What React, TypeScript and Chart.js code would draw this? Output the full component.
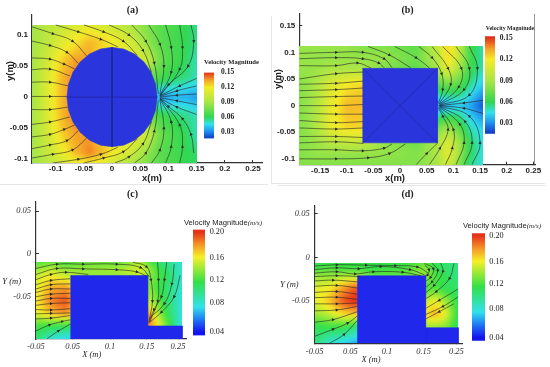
import React, { useEffect, useRef } from "react";
import { Chart, registerables } from "chart.js";

Chart.register(...registerables);

type Pt = [number, number];
type Stop = [number, [number, number, number]];

// ---- colour scales -------------------------------------------------------
const stopsAB: Stop[] = [
  [0.005, [0, 0, 120]], [0.015, [15, 50, 190]], [0.03, [30, 140, 240]], [0.045, [50, 225, 235]],
  [0.06, [50, 215, 80]], [0.09, [170, 230, 70]], [0.12, [245, 235, 40]], [0.135, [245, 160, 40]], [0.15, [225, 50, 25]],
];
const stopsCD: Stop[] = [
  [0.04, [20, 20, 240]], [0.06, [30, 120, 245]], [0.08, [50, 225, 235]], [0.12, [50, 225, 70]],
  [0.16, [245, 240, 40]], [0.18, [245, 150, 40]], [0.2, [230, 50, 25]],
];

// ---- panel (a) -----------------------------------------------------------
const xsA = [-0.142, -0.115, -0.09, -0.065, -0.04, -0.015, 0.01, 0.035, 0.06, 0.085, 0.11, 0.13, 0.15];
const ysA = [0.116, 0.09, 0.06, 0.03, 0, -0.03, -0.06, -0.09, -0.106];
const velA = [
  [0.088, 0.095, 0.1, 0.108, 0.112, 0.105, 0.1, 0.09, 0.08, 0.07, 0.065, 0.06, 0.055],
  [0.088, 0.098, 0.11, 0.12, 0.13, 0.125, 0.115, 0.105, 0.085, 0.07, 0.065, 0.06, 0.055],
  [0.088, 0.105, 0.125, 0.135, 0.135, 0.12, 0.12, 0.115, 0.105, 0.075, 0.065, 0.06, 0.05],
  [0.088, 0.11, 0.13, 0.14, 0.135, 0.12, 0.12, 0.11, 0.08, 0.065, 0.058, 0.055, 0.05],
  [0.088, 0.11, 0.13, 0.14, 0.135, 0.12, 0.12, 0.11, 0.08, 0.03, 0.036, 0.036, 0.032],
  [0.088, 0.11, 0.13, 0.14, 0.135, 0.12, 0.12, 0.11, 0.08, 0.065, 0.058, 0.055, 0.05],
  [0.088, 0.105, 0.125, 0.135, 0.135, 0.12, 0.12, 0.115, 0.105, 0.075, 0.065, 0.06, 0.05],
  [0.088, 0.1, 0.115, 0.13, 0.14, 0.13, 0.115, 0.105, 0.085, 0.07, 0.065, 0.06, 0.058],
  [0.085, 0.095, 0.105, 0.115, 0.12, 0.11, 0.1, 0.09, 0.08, 0.07, 0.065, 0.06, 0.058],
];
const circleA: Pt[] = [
  [0.08, 0], [0.0773, 0.0207], [0.0693, 0.04], [0.0566, 0.0566], [0.04, 0.0693], [0.0207, 0.0773], [0, 0.08],
  [-0.0207, 0.0773], [-0.04, 0.0693], [-0.0566, 0.0566], [-0.0693, 0.04], [-0.0773, 0.0207], [-0.08, 0],
  [-0.0773, -0.0207], [-0.0693, -0.04], [-0.0566, -0.0566], [-0.04, -0.0693], [-0.0207, -0.0773], [0, -0.08],
  [0.0207, -0.0773], [0.04, -0.0693], [0.0566, -0.0566], [0.0693, -0.04], [0.0773, -0.0207], [0.08, 0],
];
const innerA: Pt[][] = [[[-0.08, 0], [0.08, 0]], [[0, 0.08], [0, -0.08]]];
const streamA: Pt[][] = [
  [[-0.142, 0.113], [-0.105, 0.102], [-0.07, 0.09], [-0.045, 0.066]],
  [[-0.142, 0.09], [-0.11, 0.083], [-0.08, 0.072], [-0.06, 0.054]],
  [[-0.142, 0.063], [-0.11, 0.061], [-0.085, 0.053], [-0.066, 0.045]],
  [[-0.142, 0.044], [-0.11, 0.045], [-0.075, 0.034]],
  [[-0.142, 0.024], [-0.11, 0.024], [-0.078, 0.018]],
  [[-0.142, 0.001], [-0.11, 0.001], [-0.08, 0.001]],
  [[-0.142, -0.02], [-0.11, -0.02], [-0.078, -0.016]],
  [[-0.142, -0.044], [-0.11, -0.04], [-0.075, -0.032]],
  [[-0.142, -0.064], [-0.11, -0.06], [-0.085, -0.052], [-0.066, -0.045]],
  [[-0.142, -0.083], [-0.11, -0.077], [-0.08, -0.07], [-0.06, -0.054]],
  [[-0.142, -0.098], [-0.105, -0.092], [-0.07, -0.085], [-0.045, -0.066]],
  [[-0.1, 0.116], [-0.06, 0.105], [-0.02, 0.093], [0.01, 0.081]],
  [[-0.05, 0.116], [-0.015, 0.105], [0.02, 0.09], [0.045, 0.067]],
  [[-0.005, 0.116], [0.03, 0.1], [0.055, 0.075], [0.07, 0.04]],
  [[0.035, 0.116], [0.06, 0.09], [0.075, 0.055], [0.082, 0.005]],
  [[0.065, 0.116], [0.085, 0.085], [0.092, 0.05], [0.085, 0.005]],
  [[0.095, 0.116], [0.105, 0.08], [0.105, 0.04], [0.085, 0.003]],
  [[0.12, 0.116], [0.125, 0.08], [0.12, 0.045], [0.086, 0.003]],
  [[0.14, 0.116], [0.145, 0.09], [0.135, 0.05], [0.1, 0.02], [0.085, 0.002]],
  [[0.15, 0.03], [0.12, 0.018], [0.085, 0.002]],
  [[0.15, 0.018], [0.115, 0.01], [0.085, 0.001]],
  [[0.15, 0.005], [0.115, 0.003], [0.085, 0]],
  [[0.15, -0.012], [0.115, -0.006], [0.085, -0.001]],
  [[0.15, -0.028], [0.115, -0.016], [0.085, -0.002]],
  [[-0.105, -0.106], [-0.06, -0.1], [-0.02, -0.092], [0.01, -0.081]],
  [[-0.05, -0.106], [-0.015, -0.098], [0.02, -0.088], [0.045, -0.067]],
  [[0.005, -0.106], [0.03, -0.096], [0.055, -0.075], [0.07, -0.04]],
  [[0.04, -0.106], [0.06, -0.09], [0.075, -0.055], [0.082, -0.005]],
  [[0.07, -0.106], [0.085, -0.085], [0.092, -0.05], [0.085, -0.005]],
  [[0.095, -0.106], [0.105, -0.08], [0.105, -0.04], [0.085, -0.003]],
  [[0.12, -0.106], [0.125, -0.08], [0.12, -0.045], [0.086, -0.003]],
  [[0.145, -0.09], [0.14, -0.06], [0.125, -0.035], [0.1, -0.015], [0.085, -0.002]],
];

// ---- panel (b) -----------------------------------------------------------
const xsB = [-0.189, -0.16, -0.13, -0.1, -0.07, -0.03, 0.03, 0.07, 0.09, 0.11, 0.13, 0.156];
const ysB = [0.111, 0.09, 0.07, 0.04, 0, -0.04, -0.07, -0.09, -0.111];
const velB = [
  [0.085, 0.085, 0.085, 0.085, 0.08, 0.08, 0.07, 0.1, 0.125, 0.1, 0.065, 0.05],
  [0.085, 0.085, 0.085, 0.085, 0.085, 0.085, 0.075, 0.095, 0.125, 0.1, 0.065, 0.05],
  [0.085, 0.085, 0.09, 0.09, 0.09, 0.08, 0.07, 0.09, 0.115, 0.09, 0.065, 0.05],
  [0.08, 0.09, 0.11, 0.12, 0.125, 0.1, 0.08, 0.07, 0.075, 0.07, 0.055, 0.04],
  [0.08, 0.09, 0.115, 0.13, 0.13, 0.1, 0.08, 0.03, 0.035, 0.04, 0.035, 0.02],
  [0.08, 0.09, 0.115, 0.125, 0.125, 0.1, 0.08, 0.075, 0.085, 0.07, 0.05, 0.04],
  [0.08, 0.085, 0.095, 0.1, 0.1, 0.085, 0.075, 0.095, 0.11, 0.09, 0.06, 0.045],
  [0.08, 0.085, 0.085, 0.085, 0.085, 0.085, 0.08, 0.09, 0.115, 0.09, 0.06, 0.045],
  [0.08, 0.08, 0.08, 0.08, 0.08, 0.08, 0.08, 0.09, 0.105, 0.08, 0.055, 0.045],
];
const squareB: Pt[] = [[-0.07, 0.07], [0.07, 0.07], [0.07, -0.07], [-0.07, -0.07], [-0.07, 0.07]];
const innerB: Pt[][] = [[[-0.07, 0.07], [0.07, -0.07]], [[-0.07, -0.07], [0.07, 0.07]]];
const streamB: Pt[][] = [
  [[-0.189, 0.098], [-0.12, 0.1], [-0.07, 0.1], [-0.03, 0.088], [-0.015, 0.071]],
  [[-0.189, 0.088], [-0.12, 0.09], [-0.07, 0.088], [-0.04, 0.08], [-0.03, 0.071]],
  [[-0.189, 0.075], [-0.12, 0.075], [-0.08, 0.08], [-0.055, 0.071]],
  [[-0.189, 0.05], [-0.12, 0.06], [-0.069, 0.063]],
  [[-0.189, 0.04], [-0.12, 0.042], [-0.069, 0.046]],
  [[-0.189, 0.028], [-0.12, 0.03], [-0.069, 0.033]],
  [[-0.189, 0.015], [-0.12, 0.017], [-0.069, 0.018]],
  [[-0.189, 0], [-0.12, 0], [-0.069, 0.002]],
  [[-0.189, -0.014], [-0.12, -0.016], [-0.069, -0.016]],
  [[-0.189, -0.028], [-0.12, -0.032], [-0.069, -0.03]],
  [[-0.189, -0.042], [-0.12, -0.044], [-0.069, -0.042]],
  [[-0.189, -0.058], [-0.12, -0.058], [-0.069, -0.06]],
  [[-0.189, -0.07], [-0.12, -0.068], [-0.069, -0.071]],
  [[-0.189, -0.083], [-0.12, -0.083], [-0.07, -0.085], [-0.03, -0.08], [-0.015, -0.072]],
  [[-0.189, -0.1], [-0.12, -0.1], [-0.06, -0.098], [-0.02, -0.09], [0.01, -0.072]],
  [[-0.06, 0.111], [-0.02, 0.095], [0.02, 0.071]],
  [[-0.01, 0.111], [0.03, 0.09], [0.055, 0.071]],
  [[0.035, 0.111], [0.06, 0.09], [0.078, 0.06], [0.08, 0.03], [0.072, 0.005]],
  [[0.06, 0.111], [0.09, 0.07], [0.095, 0.04], [0.073, 0.003]],
  [[0.08, 0.111], [0.115, 0.07], [0.11, 0.035], [0.073, 0.002]],
  [[0.105, 0.111], [0.13, 0.07], [0.12, 0.03], [0.075, 0.002]],
  [[0.13, 0.111], [0.145, 0.07], [0.13, 0.02], [0.075, 0.001]],
  [[0.156, 0.01], [0.12, 0.005], [0.073, 0]],
  [[0.156, -0.015], [0.12, -0.005], [0.073, 0]],
  [[0.03, -0.111], [0.05, -0.09], [0.07, -0.071]],
  [[0.055, -0.111], [0.075, -0.08], [0.09, -0.045], [0.08, -0.02], [0.072, -0.005]],
  [[0.085, -0.111], [0.098, -0.08], [0.1, -0.045], [0.073, -0.003]],
  [[0.105, -0.111], [0.12, -0.07], [0.112, -0.035], [0.073, -0.002]],
  [[0.12, -0.111], [0.135, -0.07], [0.122, -0.03], [0.075, -0.002]],
  [[0.135, -0.111], [0.15, -0.07], [0.13, -0.02], [0.075, -0.001]],
];

// ---- panel (c) -----------------------------------------------------------
const xsC = [-0.05, -0.03, -0.01, 0.02, 0.06, 0.09, 0.1, 0.115, 0.13, 0.146];
const ysC = [-0.0097, -0.018, -0.025, -0.04, -0.055, -0.07, -0.084, -0.0992];
const velC = [
  [0.125, 0.13, 0.125, 0.13, 0.13, 0.145, 0.13, 0.11, 0.1, 0.085],
  [0.14, 0.15, 0.14, 0.14, 0.145, 0.155, 0.145, 0.12, 0.105, 0.085],
  [0.15, 0.16, 0.15, 0.14, 0.14, 0.15, 0.14, 0.125, 0.11, 0.085],
  [0.155, 0.175, 0.18, 0.14, 0.14, 0.14, 0.14, 0.12, 0.105, 0.085],
  [0.16, 0.185, 0.195, 0.14, 0.14, 0.15, 0.15, 0.13, 0.105, 0.08],
  [0.155, 0.17, 0.18, 0.14, 0.14, 0.18, 0.18, 0.14, 0.11, 0.08],
  [0.125, 0.12, 0.12, 0.1, 0.1, 0.19, 0.19, 0.16, 0.12, 0.075],
  [0.11, 0.085, 0.075, 0.07, 0.07, 0.1, 0.1, 0.1, 0.1, 0.075],
];
const blockC: Pt[] = [[-0.0035, -0.0253], [0.0996, -0.0253], [0.0996, -0.0994], [-0.0035, -0.0994], [-0.0035, -0.0253]];
const ledgeC: Pt[] = [[0.0996, -0.0841], [0.1459, -0.0841], [0.1459, -0.0994], [0.0996, -0.0994], [0.0996, -0.0841]];
const streamC: Pt[][] = [
  [[-0.05, -0.017], [-0.022, -0.012], [0.013, -0.012], [0.058, -0.012], [0.09, -0.016], [0.102, -0.027]],
  [[-0.05, -0.024], [-0.022, -0.017], [0.013, -0.0175], [0.058, -0.0185], [0.085, -0.021], [0.098, -0.026]],
  [[-0.05, -0.03], [-0.03, -0.024], [-0.01, -0.0215], [0.02, -0.024]],
  [[-0.05, -0.036], [-0.03, -0.031], [-0.004, -0.029]],
  [[-0.05, -0.041], [-0.03, -0.036], [-0.004, -0.035]],
  [[-0.05, -0.045], [-0.03, -0.041], [-0.004, -0.041]],
  [[-0.05, -0.05], [-0.03, -0.047], [-0.004, -0.046]],
  [[-0.05, -0.055], [-0.03, -0.052], [-0.004, -0.052]],
  [[-0.05, -0.06], [-0.03, -0.058], [-0.004, -0.057]],
  [[-0.05, -0.065], [-0.03, -0.0655], [-0.004, -0.064]],
  [[-0.05, -0.07], [-0.03, -0.0695], [-0.004, -0.069]],
  [[-0.05, -0.076], [-0.03, -0.075], [-0.004, -0.072]],
  [[-0.05, -0.09], [-0.032, -0.083], [-0.015, -0.079], [-0.004, -0.077]],
  [[-0.035, -0.099], [-0.02, -0.09], [-0.004, -0.082]],
  [[0.08, -0.0097], [0.098, -0.015], [0.104, -0.03], [0.106, -0.055], [0.101, -0.08]],
  [[0.113, -0.0097], [0.114, -0.03], [0.113, -0.055], [0.102, -0.08]],
  [[0.125, -0.0097], [0.122, -0.03], [0.118, -0.05], [0.108, -0.065], [0.102, -0.078]],
  [[0.135, -0.012], [0.132, -0.035], [0.122, -0.058], [0.102, -0.075]],
  [[0.143, -0.025], [0.135, -0.05], [0.118, -0.068], [0.102, -0.08]],
];

// ---- panel (d) -----------------------------------------------------------
const xsD = [-0.05, -0.03, -0.01, 0.008, 0.03, 0.07, 0.1013, 0.115, 0.13, 0.146];
const ysD = [-0.0068, -0.014, -0.021, -0.035, -0.05, -0.065, -0.08, -0.098];
const velD = [
  [0.115, 0.12, 0.12, 0.12, 0.12, 0.12, 0.13, 0.115, 0.11, 0.105],
  [0.125, 0.13, 0.125, 0.125, 0.12, 0.125, 0.14, 0.12, 0.11, 0.105],
  [0.14, 0.14, 0.145, 0.145, 0.13, 0.13, 0.14, 0.125, 0.115, 0.105],
  [0.155, 0.16, 0.18, 0.195, 0.15, 0.13, 0.125, 0.125, 0.115, 0.11],
  [0.155, 0.17, 0.195, 0.205, 0.15, 0.14, 0.15, 0.16, 0.14, 0.115],
  [0.14, 0.15, 0.165, 0.17, 0.15, 0.15, 0.165, 0.175, 0.155, 0.115],
  [0.115, 0.12, 0.12, 0.105, 0.1, 0.12, 0.14, 0.14, 0.135, 0.11],
  [0.11, 0.085, 0.075, 0.065, 0.07, 0.1, 0.12, 0.12, 0.12, 0.11],
];
const blockD: Pt[] = [[0.0084, -0.021], [0.1013, -0.021], [0.1013, -0.098], [0.0084, -0.098], [0.0084, -0.021]];
const ledgeD: Pt[] = [[0.1013, -0.0802], [0.146, -0.0802], [0.146, -0.098], [0.1013, -0.098], [0.1013, -0.0802]];
const streamD: Pt[][] = [
  [[-0.05, -0.01], [-0.02, -0.0085], [0.02, -0.009], [0.06, -0.0095], [0.09, -0.011], [0.105, -0.018]],
  [[-0.05, -0.014], [-0.02, -0.012], [0.01, -0.013], [0.04, -0.0105], [0.08, -0.014], [0.1, -0.02]],
  [[-0.05, -0.018], [-0.02, -0.0165], [0.005, -0.019], [0.03, -0.0165], [0.07, -0.017], [0.095, -0.021]],
  [[-0.05, -0.022], [-0.02, -0.021], [0.012, -0.022]],
  [[-0.05, -0.027], [-0.025, -0.026], [0.008, -0.028]],
  [[-0.05, -0.033], [-0.02, -0.032], [0.008, -0.035]],
  [[-0.05, -0.04], [-0.02, -0.039], [0.008, -0.042]],
  [[-0.05, -0.046], [-0.02, -0.0455], [0.008, -0.048]],
  [[-0.05, -0.053], [-0.02, -0.053], [0.008, -0.052]],
  [[-0.05, -0.061], [-0.02, -0.06], [0.008, -0.056]],
  [[-0.05, -0.074], [-0.025, -0.071], [0.008, -0.062]],
  [[-0.05, -0.09], [-0.025, -0.082], [-0.005, -0.075], [0.008, -0.067]],
  [[-0.03, -0.098], [-0.01, -0.088], [0.008, -0.072]],
  [[0.146, -0.036], [0.12, -0.049], [0.102, -0.058]],
  [[0.146, -0.045], [0.125, -0.056], [0.102, -0.065]],
  [[0.14, -0.053], [0.12, -0.062], [0.102, -0.07]],
  [[0.14, -0.0068], [0.134, -0.024], [0.116, -0.039], [0.102, -0.047]],
  [[0.122, -0.0068], [0.125, -0.016], [0.113, -0.032], [0.102, -0.04]],
  [[0.11, -0.0068], [0.118, -0.015], [0.11, -0.028], [0.102, -0.034]],
  [[0.1, -0.007], [0.112, -0.013], [0.108, -0.023], [0.102, -0.027]],
  [[0.1, -0.009], [0.106, -0.014], [0.104, -0.02], [0.101, -0.021]],
];

// ---- tick positions and labels -------------------------------------------
const xTicksA = [-0.1, -0.05, 0, 0.05, 0.1, 0.15, 0.2, 0.25];
const xLabelsA = ["-0.1", "-0.05", "0", "0.05", "0.1", "0.15", "0.2", "0.25"];
const yTicksA = [0.1, 0.05, 0, -0.05, -0.1];
const yLabelsA = ["0.1", "0.05", "0", "-0.05", "-0.1"];
const xTicksB = [-0.15, -0.1, -0.05, 0, 0.05, 0.1, 0.15, 0.2, 0.25];
const xLabelsB = ["-0.15", "-0.1", "-0.05", "0", "0.05", "0.1", "0.15", "0.2", "0.25"];
const yTicksB = [0.15, 0.1, 0.05, 0, -0.05, -0.1];
const yLabelsB = ["0.15", "0.1", "0.05", "0", "-0.05", "-0.1"];
const xTicksC = [-0.05, -0.0009, 0.0491, 0.0983, 0.1402];
const xTicksD = [-0.05, -0.0014, 0.0486, 0.0987, 0.1433];
const xLabelsCD = ["-0.05", "0.05", "0.1", "0.15", "0.25"];
const yTicksCD = [0.05, 0, -0.05];
const yLabelsCD = ["0.05", "0", "-0.05"];
const barTicksAB = [0.15, 0.12, 0.09, 0.06, 0.03];
const barLabelsAB = ["0.15", "0.12", "0.09", "0.06", "0.03"];
const barTicksC = [0.2, 0.1593, 0.1241, 0.0865, 0.04];
const barTicksD = [0.2, 0.1589, 0.1246, 0.0851, 0.04];
const barLabelsCD = ["0.20", "0.16", "0.12", "0.08", "0.04"];

// ---- helpers -------------------------------------------------------------
function colorAt(stops: Stop[], v: number): [number, number, number] {
  if (v <= stops[0][0]) return stops[0][1];
  for (let i = 1; i < stops.length; i++) {
    if (v <= stops[i][0]) {
      const t = (v - stops[i - 1][0]) / (stops[i][0] - stops[i - 1][0]);
      const a = stops[i - 1][1], b = stops[i][1];
      return [a[0] + (b[0] - a[0]) * t, a[1] + (b[1] - a[1]) * t, a[2] + (b[2] - a[2]) * t];
    }
  }
  return stops[stops.length - 1][1];
}

function bracket(arr: number[], p: number): [number, number] {
  let i = 0;
  while (i < arr.length - 2 && p > arr[i + 1]) i++;
  const t = Math.min(1, Math.max(0, (p - arr[i]) / (arr[i + 1] - arr[i])));
  return [i, t];
}

const heatPlugin = {
  id: "heatField",
  beforeDatasetDraw(chart: any, args: any) {
    const h = chart.data.datasets[args.index].heatField;
    if (!h) return;
    const px = h.xs.map((v: number) => chart.scales.x.getPixelForValue(v));
    const py = h.ys.map((v: number) => chart.scales.y.getPixelForValue(v));
    const x0 = Math.round(px[0]), y0 = Math.round(py[0]);
    const w = Math.round(px[px.length - 1]) - x0, hh = Math.round(py[py.length - 1]) - y0;
    const off = document.createElement("canvas");
    off.width = w; off.height = hh;
    const octx = off.getContext("2d")!;
    const img = octx.createImageData(w, hh);
    for (let j = 0; j < hh; j++) {
      const [jy, ty] = bracket(py, y0 + j + 0.5);
      for (let i = 0; i < w; i++) {
        const [ix, tx] = bracket(px, x0 + i + 0.5);
        const v =
          (h.vals[jy][ix] * (1 - tx) + h.vals[jy][ix + 1] * tx) * (1 - ty) +
          (h.vals[jy + 1][ix] * (1 - tx) + h.vals[jy + 1][ix + 1] * tx) * ty;
        const c = colorAt(h.stops, v);
        const k = (j * w + i) * 4;
        img.data[k] = c[0]; img.data[k + 1] = c[1]; img.data[k + 2] = c[2]; img.data[k + 3] = 255;
      }
    }
    octx.putImageData(img, 0, 0);
    const ctx = chart.ctx;
    ctx.save();
    ctx.drawImage(off, x0, y0);
    ctx.beginPath();
    ctx.rect(x0, y0, w, hh);
    ctx.clip();
    ctx.filter = "blur(2px)";
    ctx.drawImage(off, x0, y0);
    ctx.restore();
    return false;
  },
};

const toXY = (l: Pt[]) => l.map(([x, y]) => ({ x, y }));

function streamSets(lines: Pt[][], kx: number, ky: number) {
  return lines.map((l) => ({
    data: toXY(l),
    showLine: true,
    borderColor: "rgba(35,35,35,0.8)",
    borderWidth: 0.75,
    tension: 0.4,
    order: 10,
    pointStyle: "triangle",
    pointBackgroundColor: "#2a2a2a",
    pointBorderWidth: 0,
    pointRadius: l.map((_, i) => (i === 0 || i === l.length - 1 ? 0 : 1.9)),
    pointRotation: l.map((p, i) => {
      const a = l[Math.max(0, i - 1)], b = l[Math.min(l.length - 1, i + 1)];
      return (Math.atan2(-(b[1] - a[1]) * ky, (b[0] - a[0]) * kx) * 180) / Math.PI + 90;
    }),
  }));
}

function bodySet(shape: Pt[], color: string) {
  return { data: toXY(shape), showLine: true, fill: "shape", backgroundColor: color, borderColor: color, borderWidth: 0.5, pointRadius: 0, order: 30 };
}
function innerSet(l: Pt[], color: string) {
  return { data: toXY(l), showLine: true, borderColor: color, borderWidth: 0.6, pointRadius: 0, order: 20 };
}

interface Panel {
  box: [number, number, number, number]; // canvas left, top, right, bottom
  plot: [number, number, number, number]; // plot left, top, right, bottom
  xr: [number, number]; yr: [number, number];
  xTicks: number[]; xLabels: string[]; yTicks: number[]; yLabels: string[];
  font: any; color: string; xPad: number; yPad: number;
  heat: any; bodies: Pt[][]; inner: Pt[][]; stream: Pt[][]; bodyColor: string; innerColor: string;
  rightAxis?: boolean;
}

const boldTick = { family: "'Liberation Sans'", size: 8, weight: "bold" };

const panels: Panel[] = [
  {
    box: [0, 0, 268, 183], plot: [32, 15, 262, 163], xr: [-0.142, 0.266], yr: [-0.106, 0.132],
    xTicks: xTicksA, xLabels: xLabelsA, yTicks: yTicksA, yLabels: yLabelsA,
    font: boldTick, color: "#222", xPad: 4, yPad: 7,
    heat: { xs: xsA, ys: ysA, vals: velA, stops: stopsAB }, bodies: [circleA], inner: innerA, stream: streamA,
    bodyColor: "rgb(43,53,220)", innerColor: "rgb(28,34,140)",
  },
  {
    box: [270, 0, 550, 183], plot: [299.3, 14, 535, 164.7], xr: [-0.189, 0.253], yr: [-0.111, 0.172],
    xTicks: xTicksB, xLabels: xLabelsB, yTicks: yTicksB, yLabels: yLabelsB,
    font: boldTick, color: "#222", xPad: 4, yPad: 7,
    heat: { xs: xsB, ys: ysB, vals: velB, stops: stopsAB }, bodies: [squareB], inner: innerB, stream: streamB,
    bodyColor: "rgb(43,53,220)", innerColor: "rgb(30,36,150)", rightAxis: true,
  },
  {
    box: [0, 185, 200, 367], plot: [36, 201.7, 186.7, 339], xr: [-0.05, 0.1518], yr: [-0.0994, 0.061],
    xTicks: xTicksC, xLabels: xLabelsCD, yTicks: yTicksCD, yLabels: yLabelsCD,
    font: { family: "'Liberation Serif'", size: 8.5, style: "italic" }, color: "#333", xPad: 6, yPad: 8,
    heat: { xs: xsC, ys: ysC, vals: velC, stops: stopsCD }, bodies: [blockC, ledgeC], inner: [], stream: streamC,
    bodyColor: "rgb(32,40,235)", innerColor: "rgb(32,40,200)",
  },
  {
    box: [278, 185, 470, 367], plot: [314.7, 205.7, 465, 343.3], xr: [-0.05, 0.1513], yr: [-0.098, 0.0588],
    xTicks: xTicksD, xLabels: xLabelsCD, yTicks: yTicksCD, yLabels: yLabelsCD,
    font: { family: "'Liberation Serif'", size: 8.5, style: "italic" }, color: "#333", xPad: 6, yPad: 8,
    heat: { xs: xsD, ys: ysD, vals: velD, stops: stopsCD }, bodies: [blockD, ledgeD], inner: [], stream: streamD,
    bodyColor: "rgb(32,40,235)", innerColor: "rgb(32,40,200)",
  },
];

interface Bar {
  left: number; top: number; w: number; h: number; min: number; max: number;
  ticks: number[]; labels: string[]; stops: Stop[]; font: any; gap: number;
}
const bars: Bar[] = [
  { left: 203.7, top: 69, w: 10, h: 73.7, min: 0.016, max: 0.15, ticks: barTicksAB, labels: barLabelsAB, stops: stopsAB, font: { family: "'Liberation Serif'", size: 7.5, weight: "bold" }, gap: 7 },
  { left: 485, top: 35, w: 10.3, h: 100, min: 0.0153, max: 0.1523, ticks: barTicksAB, labels: barLabelsAB, stops: stopsAB, font: { family: "'Liberation Serif'", size: 7.5, weight: "bold" }, gap: 4.7 },
  { left: 193.3, top: 228.3, w: 12.7, h: 109.4, min: 0.0347, max: 0.2042, ticks: barTicksC, labels: barLabelsCD, stops: stopsCD, font: { family: "'Liberation Serif'", size: 8.2 }, gap: 4.7 },
  { left: 472.3, top: 231.7, w: 13.4, h: 110, min: 0.0348, max: 0.204, ticks: barTicksD, labels: barLabelsCD, stops: stopsCD, font: { family: "'Liberation Serif'", size: 8.2 }, gap: 4.3 },
];

function mainConfig(p: Panel): any {
  const kx = (p.plot[2] - p.plot[0]) / (p.xr[1] - p.xr[0]);
  const ky = (p.plot[3] - p.plot[1]) / (p.yr[1] - p.yr[0]);
  const cells: { x: number; y: number }[] = [];
  p.heat.ys.forEach((y: number) => p.heat.xs.forEach((x: number) => cells.push({ x, y })));
  const datasets: any[] = [
    { data: cells, heatField: p.heat, pointRadius: 0, order: 100 },
    ...p.bodies.map((b) => bodySet(b, p.bodyColor)),
    ...p.inner.map((l) => innerSet(l, p.innerColor)),
    ...streamSets(p.stream, kx, ky),
  ];
  if (p.rightAxis) {
    datasets.push({ data: [{ x: p.xr[1], y: p.yr[0] }, { x: p.xr[1], y: p.yr[1] }], showLine: true, borderColor: "#333", borderWidth: 1, pointRadius: 0, order: 5 });
  }
  const axis = (ticks: number[], labels: string[], pad: number, fit: (s: any) => void, min: number, max: number) => ({
    type: "linear", min, max,
    afterBuildTicks: (a: any) => { a.ticks = ticks.map((value) => ({ value })); },
    afterFit: fit,
    grid: { display: true, drawOnChartArea: false, drawTicks: true, tickLength: -3, color: "#333", lineWidth: 1 },
    border: { display: true, color: "#333", width: 1.2 },
    ticks: { autoSkip: false, maxRotation: 0, padding: pad, color: p.color, font: p.font, callback: (_: any, i: number) => labels[i] },
  });
  return {
    type: "scatter",
    data: { datasets },
    plugins: [heatPlugin],
    options: {
      animation: false, responsive: false,
      layout: { padding: { left: 0, bottom: 0, top: p.plot[1] - p.box[1], right: p.box[2] - p.plot[2] } },
      plugins: { legend: { display: false }, title: { display: false }, tooltip: { enabled: false } },
      events: [],
      scales: {
        x: axis(p.xTicks, p.xLabels, p.xPad, (s) => { s.height = p.box[3] - p.plot[3]; }, p.xr[0], p.xr[1]),
        y: axis(p.yTicks, p.yLabels, p.yPad, (s) => { s.width = p.plot[0] - p.box[0]; }, p.yr[0], p.yr[1]),
      },
    },
  };
}

function barConfig(b: Bar): any {
  return {
    type: "bar",
    data: {
      labels: [""],
      datasets: [{
        data: [[b.min, b.max]],
        barPercentage: 1, categoryPercentage: 1, borderWidth: 0,
        backgroundColor: (ctx: any) => {
          const area = ctx.chart.chartArea;
          if (!area) return "#888";
          const g = ctx.chart.ctx.createLinearGradient(0, area.bottom, 0, area.top);
          b.stops.forEach(([v, c]) => {
            const t = (v - b.min) / (b.max - b.min);
            if (t >= 0 && t <= 1) g.addColorStop(t, `rgb(${c[0]},${c[1]},${c[2]})`);
          });
          const lo = colorAt(b.stops, b.min), hi = colorAt(b.stops, b.max);
          g.addColorStop(0, `rgb(${lo[0]},${lo[1]},${lo[2]})`);
          g.addColorStop(1, `rgb(${hi[0]},${hi[1]},${hi[2]})`);
          return g;
        },
      }],
    },
    options: {
      animation: false, responsive: false, events: [],
      layout: { padding: { top: 8, bottom: 8, left: 0, right: 0 } },
      plugins: { legend: { display: false }, tooltip: { enabled: false } },
      scales: {
        x: { display: false },
        y: {
          position: "right", min: b.min, max: b.max,
          afterBuildTicks: (a: any) => { a.ticks = b.ticks.map((value) => ({ value })); },
          afterFit: (s: any) => { s.width = 30; },
          grid: { display: false, drawTicks: false },
          border: { display: false },
          ticks: { autoSkip: false, padding: b.gap, color: "#222", font: b.font, callback: (_: any, i: number) => b.labels[i] },
        },
      },
    },
  };
}

// ---- page text -----------------------------------------------------------
const serif = "'Liberation Serif', serif";
const sans = "'Liberation Sans', sans-serif";
const texts: { t: React.ReactNode; x: number; y: number; s: any }[] = [
  { t: "(a)", x: 132.5, y: 9, s: { font: `bold 10px ${serif}` } },
  { t: "(b)", x: 407.5, y: 9, s: { font: `bold 10px ${serif}` } },
  { t: "(c)", x: 132.5, y: 193, s: { font: `bold 10px ${serif}` } },
  { t: "(d)", x: 407.5, y: 193, s: { font: `bold 10px ${serif}` } },
  { t: "x(m)", x: 152, y: 177, s: { font: `bold 9.5px ${sans}` } },
  { t: "y(m)", x: 9, y: 70.7, s: { font: `bold 9.5px ${sans}`, rotate: "-90deg" } },
  { t: "x(m)", x: 395, y: 176.7, s: { font: `bold 9.5px ${sans}` } },
  { t: "y(m)", x: 276.7, y: 79.3, s: { font: `bold 9.5px ${sans}`, rotate: "-90deg" } },
  { t: "X (m)", x: 91.7, y: 354, s: { font: `italic 8.5px ${serif}` } },
  { t: "Y (m)", x: 11.7, y: 280.7, s: { font: `italic 8.5px ${serif}` } },
  { t: "X (m)", x: 371, y: 359, s: { font: `italic 8.5px ${serif}` } },
  { t: "Y (m)", x: 289.3, y: 284, s: { font: `italic 8.5px ${serif}` } },
  { t: "Velocity Magnitude", x: 231.5, y: 61, s: { font: `bold 6.6px ${serif}` } },
  { t: "Velocity Magnitude", x: 510, y: 28, s: { font: `bold 5.8px ${serif}` } },
  { t: <>Velocity Magnitude<span style={{ font: `italic 7px ${serif}` }}>(m/s)</span></>, x: 223, y: 221.7, s: { font: `7.6px ${sans}` } },
  { t: <>Velocity Magnitude<span style={{ font: `italic 7px ${serif}` }}>(m/s)</span></>, x: 502, y: 225, s: { font: `7.6px ${sans}` } },
];
const rules = [
  { left: 0, top: 184, width: 268, height: 1 },
  { left: 271, top: 16, width: 1, height: 167 },
  { left: 271, top: 183, width: 274, height: 1 },
  { left: 278, top: 185, width: 268, height: 1 },
];

const pos = (l: number, t: number, w: number, h: number): React.CSSProperties => ({
  position: "absolute", left: l, top: t, width: w, height: h,
});

export default function App() {
  const mains = useRef<(HTMLCanvasElement | null)[]>([]);
  const cbs = useRef<(HTMLCanvasElement | null)[]>([]);
  useEffect(() => {
    const charts = [
      ...panels.map((p, i) => new Chart(mains.current[i]!, mainConfig(p))),
      ...bars.map((b, i) => new Chart(cbs.current[i]!, barConfig(b))),
    ];
    return () => charts.forEach((c) => c.destroy());
  }, []);
  return (
    <div style={{ position: "fixed", left: 0, top: 0, width: 550, height: 367, background: "#fff", overflow: "hidden" }}>
      {rules.map((r, i) => <div key={i} style={{ position: "absolute", background: "#e6e6e6", ...r }} />)}
      {panels.map((p, i) => (
        <div key={i} style={pos(p.box[0], p.box[1], p.box[2] - p.box[0], p.box[3] - p.box[1])}>
          <canvas ref={(el) => { mains.current[i] = el; }} width={p.box[2] - p.box[0]} height={p.box[3] - p.box[1]} style={{ display: "block" }} />
        </div>
      ))}
      {bars.map((b, i) => (
        <div key={i} style={pos(b.left, b.top - 8, b.w + 30, b.h + 16)}>
          <canvas ref={(el) => { cbs.current[i] = el; }} width={b.w + 30} height={b.h + 16} style={{ display: "block" }} />
        </div>
      ))}
      {texts.map((t, i) => (
        <div key={i} style={{
          position: "absolute", left: t.x, top: t.y, whiteSpace: "nowrap", color: "#222", font: t.s.font,
          transform: `translate(-50%,-50%)${t.s.rotate ? ` rotate(${t.s.rotate})` : ""}`,
        }}>{t.t}</div>
      ))}
    </div>
  );
}
